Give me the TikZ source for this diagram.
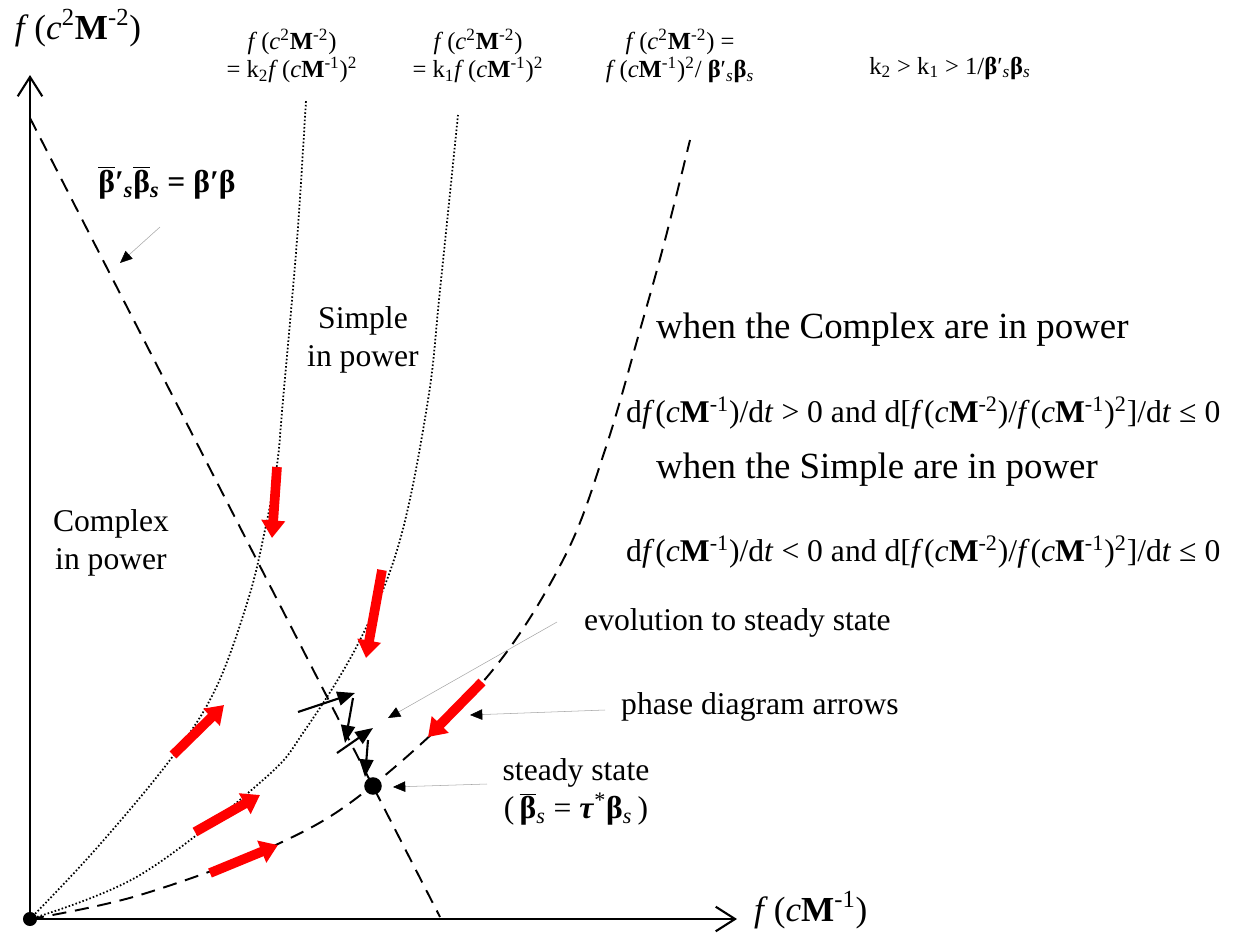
\documentclass[tikz,border=0pt]{standalone}
\usepackage{fontspec}
\setmainfont{Liberation Serif}
\usetikzlibrary{arrows.meta}

\newcommand{\fn}{\textit{f}\,}
\newcommand{\fc}{\textit{f}\kern0.5pt}
\newcommand{\Mb}{\textbf{M}}
\newcommand{\bb}{\textbf{β}}
\newcommand{\ob}{$\overline{\mbox{\textbf{β}}}$}
\newcommand{\sub}[1]{\textsubscript{\textit{#1}}}

\begin{document}
\begin{tikzpicture}[x=0.02cm, y=-0.02cm,
    axis/.style={line width=1.2pt, -{Straight Barb[length=11pt,width=14pt]}},
    dashline/.style={line width=1.1pt, dash pattern=on 8pt off 5pt},
    dotline/.style={line width=1pt, dash pattern=on 0.9pt off 1.2pt},
    phasearr/.style={red, line width=5.5pt, -{Triangle[length=10pt,width=13pt]}},
    evol/.style={line width=1.2pt, -{Triangle[length=10pt,width=8pt]}},
    lead/.style={gray!70, line width=0.3pt, -{Triangle[length=7pt,width=6pt,color=black]}},
    txt/.style={font=\fontsize{18}{22}\selectfont},
    eqtxt/.style={font=\fontsize{21}{25}\selectfont, anchor=west},
    eqsmall/.style={font=\fontsize{18}{22}\selectfont, anchor=west},
    toptxt/.style={font=\fontsize{14}{16}\selectfont, align=center}]
    \useasboundingbox (0,0) rectangle (1234,933);

    % axes
    \coordinate (O) at (30,919);
    \coordinate (ytop) at (30,75);
    \coordinate (xend) at (737,919);
    \draw[axis] (O) -- (ytop);
    \draw[axis] (O) -- (xend);
    \node[font=\fontsize{20}{24}\selectfont] (ylab) at (78,28) {\fn(\textit{c}\textsuperscript{2}\Mb\textsuperscript{-2})};
    \node[font=\fontsize{20}{24}\selectfont, anchor=west] (xlab) at (748,910) {\fn(\textit{c}\Mb\textsuperscript{-1})};

    % curves
    \draw[dotline] plot[smooth, tension=0.6] coordinates {(30,919) (95,850) (170,760) (215,690) (248,600) (265,530) (277,465) (283,400) (297,240) (306,100)};
    \draw[dotline] plot[smooth, tension=0.6] coordinates {(30,919) (140,875) (263,780) (305,730) (360,640) (400,540) (428,400) (440,290) (458,115)};
    \draw[dashline] plot[smooth, tension=0.6] coordinates {(30,919) (140,895) (280,843) (372,786) (487,677) (563,560) (605,450) (640,330) (665,240) (690,140)};
    \coordinate (ltop) at (30,118);
    \coordinate (lbot) at (440,917);
    \draw[dashline] (ltop) -- (lbot);

    % labels
    \node[toptxt] (k2lab) at (292,56) {\fn(\textit{c}\textsuperscript{2}\Mb\textsuperscript{-2})\\= k\textsubscript{2}\fn(\textit{c}\Mb\textsuperscript{-1})\textsuperscript{2}};
    \node[toptxt] (k1lab) at (478,56) {\fn(\textit{c}\textsuperscript{2}\Mb\textsuperscript{-2})\\= k\textsubscript{1}\fn(\textit{c}\Mb\textsuperscript{-1})\textsuperscript{2}};
    \node[toptxt] (k0lab) at (680,56) {\fn(\textit{c}\textsuperscript{2}\Mb\textsuperscript{-2}) =\\\fn(\textit{c}\Mb\textsuperscript{-1})\textsuperscript{2}/ \bb′\sub{s}\bb\sub{s}};
    \node[toptxt] (kineq) at (950,68) {k\textsubscript{2} > k\textsubscript{1} > 1/\bb′\sub{s}\bb\sub{s}};
    \node[font=\fontsize{18}{22}\selectfont\bfseries] (betalab) at (167,183) {\ob′\sub{s}\ob\sub{s} = β′β};
    \node[txt, align=center] (simple) at (363,340) {Simple\\in power};
    \node[txt, align=center] (complex) at (111,543) {Complex\\in power};
    \node[eqtxt] (eq1) at (650,330) {when the Complex are in power};
    \node[eqsmall] (eq2) at (620,413) {d\fc(\textit{c}\Mb\textsuperscript{-1})/d\textit{t} > 0 and d[\fc(\textit{c}\Mb\textsuperscript{-2})/\fc(\textit{c}\Mb\textsuperscript{-1})\textsuperscript{2}]/d\textit{t} ≤ 0};
    \node[eqtxt] (eq3) at (650,470) {when the Simple are in power};
    \node[eqsmall] (eq4) at (620,552) {d\fc(\textit{c}\Mb\textsuperscript{-1})/d\textit{t} < 0 and d[\fc(\textit{c}\Mb\textsuperscript{-2})/\fc(\textit{c}\Mb\textsuperscript{-1})\textsuperscript{2}]/d\textit{t} ≤ 0};
    \node[txt, anchor=west] (evo) at (578,623) {evolution to steady state};
    \node[txt, anchor=west] (phase) at (615,707) {phase diagram arrows};
    \node[txt, align=center] (steady) at (576,792) {steady state\\(\,\ob\sub{s} = \textbf{\textit{τ}}\textsuperscript{*}\bb\sub{s}\,)};

    % phase diagram arrows
    \coordinate (r1a) at (277,467); \coordinate (r1b) at (272,538);
    \coordinate (r2a) at (382,570); \coordinate (r2b) at (366,658);
    \coordinate (r3a) at (482,682); \coordinate (r3b) at (428,737);
    \coordinate (r4a) at (173,755); \coordinate (r4b) at (224,705);
    \coordinate (r5a) at (195,832); \coordinate (r5b) at (260,795);
    \coordinate (r6a) at (210,873); \coordinate (r6b) at (278,845);
    \draw[phasearr] (r1a) -- (r1b);
    \draw[phasearr] (r2a) -- (r2b);
    \draw[phasearr] (r3a) -- (r3b);
    \draw[phasearr] (r4a) -- (r4b);
    \draw[phasearr] (r5a) -- (r5b);
    \draw[phasearr] (r6a) -- (r6b);

    % evolution to steady state
    \coordinate (e1) at (298,712); \coordinate (e2) at (355,693);
    \coordinate (e3) at (353,698); \coordinate (e4) at (345,743);
    \coordinate (e5) at (337,753); \coordinate (e6) at (373,728);
    \coordinate (e7) at (368,740); \coordinate (e8) at (365,777);
    \draw[evol] (e1) -- (e2);
    \draw[evol] (e3) -- (e4);
    \draw[evol] (e5) -- (e6);
    \draw[evol] (e7) -- (e8);

    \node[circle, fill, inner sep=0pt, minimum size=10pt] (ss) at (373,786) {};
    \node[circle, fill, inner sep=0pt, minimum size=8pt] (orig) at (O) {};

    % pointers
    \coordinate (p1a) at (160,227); \coordinate (p1b) at (120,263);
    \coordinate (p2a) at (557,622); \coordinate (p2b) at (388,718);
    \coordinate (p3a) at (605,710); \coordinate (p3b) at (470,715);
    \coordinate (p4a) at (487,784); \coordinate (p4b) at (393,787);
    \draw[lead] (p1a) -- (p1b);
    \draw[lead] (p2a) -- (p2b);
    \draw[lead] (p3a) -- (p3b);
    \draw[lead] (p4a) -- (p4b);
\end{tikzpicture}
\end{document}
